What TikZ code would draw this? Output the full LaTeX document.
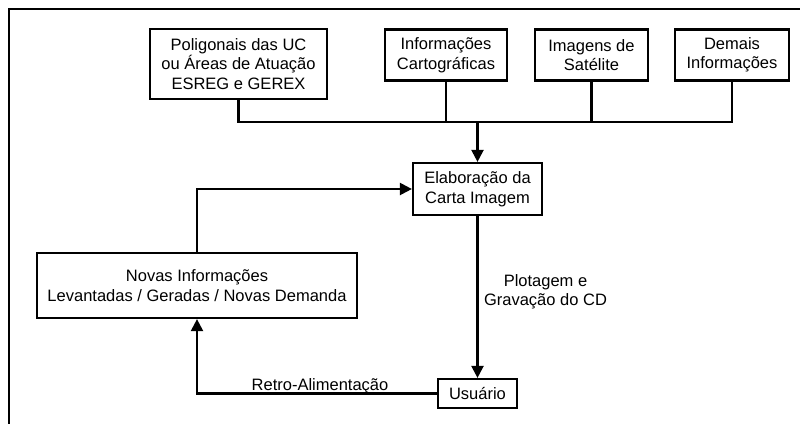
\documentclass[tikz,border=0pt]{standalone}
\usepackage{fontspec}
\setmainfont{Liberation Sans}
\usetikzlibrary{arrows.meta}
\tikzset{
  box/.style={draw, line width=2.2pt, inner sep=0pt, align=center, font=\fontsize{16.5}{19.5}\selectfont},
  conn/.style={line width=2.2pt},
  arr/.style={conn, -{Triangle[width=12pt,length=12pt]}},
  lbl/.style={inner sep=0pt, align=center, font=\fontsize{16.5}{19}\selectfont}
}
\begin{document}
\begin{tikzpicture}[x=1pt,y=-1pt]
\useasboundingbox (0,0) rectangle (800,423);
\clip (0,0) rectangle (800,423);
\draw[line width=2.2pt] (9,9) rectangle (815,440);
\node[box, minimum width=177pt, minimum height=70pt] (pol) at (238.5,64) {Poligonais das UC\\ou Áreas de Atuação\\ESREG e GEREX};
\node[box, minimum width=122pt, minimum height=51pt] (info) at (446,55) {Informações\\Cartográficas};
\node[box, minimum width=113pt, minimum height=51pt] (img) at (591.5,55) {Imagens de\\Satélite};
\node[box, minimum width=114pt, minimum height=51pt] (dem) at (732,55) {Demais\\Informações};
\node[box, minimum width=129pt, minimum height=52pt] (elab) at (477.5,189) {Elaboração da\\Carta Imagem};
\node[box, minimum width=320pt, minimum height=65pt] (novas) at (197,285.5) {Novas Informações\\Levantadas / Geradas / Novas Demanda};
\node[box, minimum width=79pt, minimum height=29pt] (usu) at (477.5,393.5) {Usuário};
\coordinate (bus) at (477.5,122);
\draw[conn] (pol.south) |- (bus);
\draw[conn] (dem.south) |- (bus);
\draw[conn] (info.south) -- (info.south |- bus);
\draw[conn] (img.south) -- (img.south |- bus);
\draw[arr] (bus) -- (elab.north);
\draw[arr] (novas.north) |- (elab.west);
\draw[arr] (elab.south) -- (usu.north);
\node[lbl] (plot) at (545.5,292) {Plotagem e\\Gravação do CD};
\draw[arr] (usu.west) -| (novas.south);
\node[lbl, anchor=base] (retro) at (320,390) {Retro-Alimentação};
\end{tikzpicture}
\end{document}
